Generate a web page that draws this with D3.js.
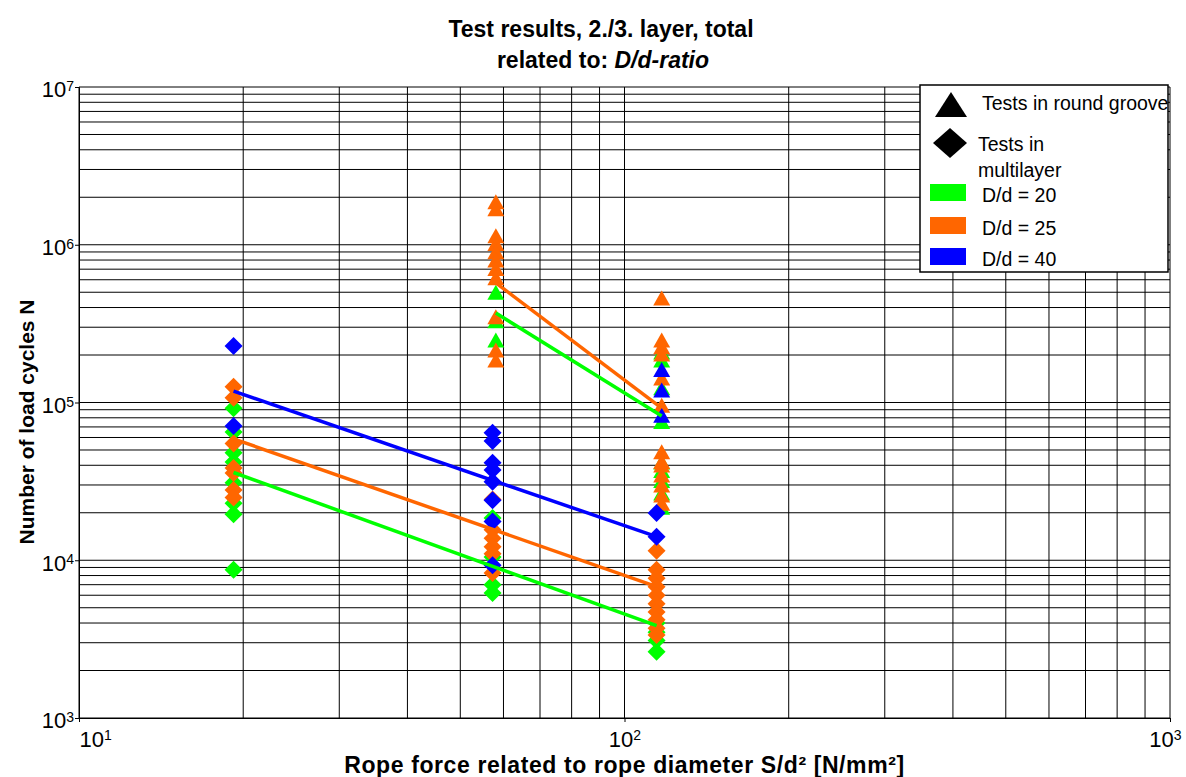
<!DOCTYPE html>
<html>
<head>
<meta charset="utf-8">
<script src="https://cdn.jsdelivr.net/npm/d3@7"></script>
<style>
  body { margin: 0; background: #fff; }
  svg { display: block; font-family: Arial, 'Liberation Sans', sans-serif; }
</style>
</head>
<body>
<script>
// Rope force S/d² [N/mm²] of the test groups
const forceMultilayer = [19.2, 57.3, 114.5];
const forceRoundGroove = [58.1, 117];

// Load cycles N, tests in multilayer (diamonds), one list per force level
const multilayerDd20 = [
  [92000, 65000, 48000, 42000, 31000, 23000, 19600, 8700],
  [18500, 10500, 7000, 6200],
  [4000, 3500, 3100, 2630],
];
const multilayerDd25 = [
  [126000, 107000, 55000, 38500, 35700, 27900, 25000],
  [24300, 15600, 13800, 12200, 11000, 8300],
  [11500, 8700, 7700, 6800, 6000, 5300, 4700, 4200, 3700, 3360],
];
const multilayerDd40 = [
  [228000, 71000],
  [64400, 57000, 41500, 37300, 31500, 24000, 17600, 9300],
  [19900, 14100],
];

// Load cycles N, tests in round groove (triangles), one list per force level
const roundDd20 = [
  [500000, 330000, 249000],
  [209000, 186000, 124000, 75700, 42000, 37000, 32000, 26700, 21700],
];
const roundDd25 = [
  [1870000, 1690000, 1140000, 1020000, 903000, 800000, 707000, 618000, 350000, 215000, 186000],
  [459000, 249000, 226000, 203000, 143000, 96000, 48800, 42200, 40200, 34700, 30000, 25900, 23000],
];
const roundDd40 = [[], [162000, 120000, 83000]];

// Fitted lines: N at the first and last force level of each group
const fitMultilayerDd20 = [36000, 3850];
const fitMultilayerDd25 = [58800, 6800];
const fitMultilayerDd40 = [118000, 14100];
const fitRoundDd20 = [369000, 82000];
const fitRoundDd25 = [573000, 92000];

// Axis ticks
const xDecades = [10, 100, 1000];
const yDecades = [1e3, 1e4, 1e5, 1e6, 1e7];

const seriesLabels = ['D/d = 20', 'D/d = 25', 'D/d = 40'];
const seriesColors = ['#00ff00', '#ff6600', '#0000ff'];

const width = 1186;
const height = 777;
const marginTop = 87;
const marginRight = 16;
const marginBottom = 59;
const marginLeft = 79;

const svg = d3
  .select('body')
  .append('svg')
  .attr('width', width)
  .attr('height', height)
  .attr('viewBox', [0, 0, width, height]);

// Declare the scales.
const x = d3
  .scaleLog()
  .domain([10, 1000])
  .range([marginLeft, width - marginRight]);

const y = d3
  .scaleLog()
  .domain([1e3, 1e7])
  .range([height - marginBottom, marginTop]);

// Minor values 1..9 per decade for the grid
const gridValues = (decades) =>
  decades.slice(0, -1).flatMap((d) => d3.range(1, 10).map((k) => k * d)).concat(decades.slice(-1));

// Grid lines
svg
  .append('g')
  .selectAll('line')
  .data(gridValues(xDecades))
  .join('line')
  .attr('x1', (d) => x(d))
  .attr('x2', (d) => x(d))
  .attr('y1', marginTop)
  .attr('y2', height - marginBottom)
  .attr('stroke', '#000')
  .attr('stroke-width', 1);

svg
  .append('g')
  .selectAll('line')
  .data(gridValues(yDecades))
  .join('line')
  .attr('x1', marginLeft)
  .attr('x2', width - marginRight)
  .attr('y1', (d) => y(d))
  .attr('y2', (d) => y(d))
  .attr('stroke', '#000')
  .attr('stroke-width', 1);

// Power-of-ten label: "10" with the exponent raised
const powerLabel = (text, d) => {
  text.text(null);
  text.append('tspan').text('10');
  text
    .append('tspan')
    .attr('dy', '-0.45em')
    .style('font-size', '14px')
    .text(Math.round(Math.log10(d)));
};

// Add the x-axis.
svg
  .append('g')
  .attr('transform', `translate(0,${height - marginBottom})`)
  .call(d3.axisBottom(x).tickValues(xDecades).tickSize(4).tickPadding(9).tickFormat(''))
  .call((g) => g.select('.domain').attr('stroke', '#000'))
  .call((g) =>
    g
      .selectAll('.tick text')
      .style('font-size', '22px')
      .attr('fill', '#000')
      .each(function (d, i) {
        powerLabel(d3.select(this), d);
        if (i === 0) d3.select(this).attr('text-anchor', 'start');
        if (i === xDecades.length - 1) d3.select(this).attr('text-anchor', 'end').attr('x', 11);
      })
  );

// Add the y-axis.
svg
  .append('g')
  .attr('transform', `translate(${marginLeft},0)`)
  .call(d3.axisLeft(y).tickValues(yDecades).tickSize(4).tickPadding(1).tickFormat(''))
  .call((g) => g.select('.domain').attr('stroke', '#000'))
  .call((g) =>
    g
      .selectAll('.tick text')
      .style('font-size', '22px')
      .attr('fill', '#000')
      .attr('dy', '0.45em')
      .each(function (d) {
        powerLabel(d3.select(this), d);
      })
  );

// Marker shapes
const diamond = (w, h) => `M0,${-h / 2}L${w / 2},0L0,${h / 2}L${-w / 2},0Z`;
const triangle = (w, h) => `M0,${-h / 2}L${w / 2},${h / 2}L${-w / 2},${h / 2}Z`;

// Flatten per-force lists into points
const toPoints = (forces, lists) => lists.flatMap((list, i) => list.map((n) => [forces[i], n]));

const roundSeries = [roundDd20, roundDd25, roundDd40];
const multilayerSeries = [multilayerDd20, multilayerDd25, multilayerDd40];

// Add the points, series by series
seriesColors.forEach((color, s) => {
  svg
    .append('g')
    .selectAll('path')
    .data(toPoints(forceRoundGroove, roundSeries[s]))
    .join('path')
    .attr('transform', (d) => `translate(${x(d[0])},${y(d[1])})`)
    .attr('d', triangle(17, 15))
    .attr('fill', color);

  svg
    .append('g')
    .selectAll('path')
    .data(toPoints(forceMultilayer, multilayerSeries[s]))
    .join('path')
    .attr('transform', (d) => `translate(${x(d[0])},${y(d[1])})`)
    .attr('d', diamond(18, 18))
    .attr('fill', color);
});

// Add the fitted lines
const line = d3
  .line()
  .x((d) => x(d[0]))
  .y((d) => y(d[1]));

const fits = [
  { forces: [forceRoundGroove[0], forceRoundGroove[1]], n: fitRoundDd20, color: seriesColors[0] },
  { forces: [forceRoundGroove[0], forceRoundGroove[1]], n: fitRoundDd25, color: seriesColors[1] },
  { forces: [forceMultilayer[0], forceMultilayer[2]], n: fitMultilayerDd20, color: seriesColors[0] },
  { forces: [forceMultilayer[0], forceMultilayer[2]], n: fitMultilayerDd25, color: seriesColors[1] },
  { forces: [forceMultilayer[0], forceMultilayer[2]], n: fitMultilayerDd40, color: seriesColors[2] },
];

for (const fit of fits) {
  svg
    .append('path')
    .attr('fill', 'none')
    .attr('stroke', fit.color)
    .attr('stroke-width', 3.5)
    .attr('d', line(fit.forces.map((f, i) => [f, fit.n[i]])));
}

// Title
const title = svg
  .append('text')
  .attr('text-anchor', 'middle')
  .style('font-size', '23px')
  .style('font-weight', 'bold');
title.append('tspan').attr('x', 601).attr('y', 37).text('Test results, 2./3. layer, total');
const title2 = title.append('tspan').attr('x', 603).attr('y', 68);
title2.append('tspan').text('related to: ');
title2.append('tspan').style('font-style', 'italic').text('D/d-ratio');

// Axis labels
svg
  .append('text')
  .attr('x', (marginLeft + width - marginRight) / 2)
  .attr('y', 773)
  .attr('text-anchor', 'middle')
  .style('font-size', '23px')
  .style('letter-spacing', '0.6px')
  .style('font-weight', 'bold')
  .text('Rope force related to rope diameter S/d² [N/mm²]');

svg
  .append('text')
  .attr('transform', 'translate(34,422) rotate(-90)')
  .attr('text-anchor', 'middle')
  .style('font-size', '21px')
  .style('font-weight', 'bold')
  .text('Number of load cycles N');

// Handmade legend
const legend = svg.append('g').style('font-size', '19.5px');
legend
  .append('rect')
  .attr('x', 920)
  .attr('y', 85)
  .attr('width', 248)
  .attr('height', 187)
  .attr('fill', '#fff')
  .attr('stroke', '#000')
  .attr('stroke-width', 1.5);

legend
  .append('path')
  .attr('transform', 'translate(951,104.5)')
  .attr('d', triangle(32, 25))
  .attr('fill', '#000');
legend.append('text').attr('x', 982).attr('y', 110).text('Tests in round groove');

legend
  .append('path')
  .attr('transform', 'translate(950,143)')
  .attr('d', diamond(34, 30))
  .attr('fill', '#000');
legend.append('text').attr('x', 978).attr('y', 151).text('Tests in');
legend.append('text').attr('x', 978).attr('y', 177).text('multilayer');

const legendRows = [184, 217, 248];
seriesLabels.forEach((label, i) => {
  legend
    .append('rect')
    .attr('x', 930)
    .attr('y', legendRows[i])
    .attr('width', 36)
    .attr('height', 17)
    .attr('fill', seriesColors[i]);
  legend
    .append('text')
    .attr('x', 982)
    .attr('y', legendRows[i] + 18)
    .text(label);
});
</script>
</body>
</html>
